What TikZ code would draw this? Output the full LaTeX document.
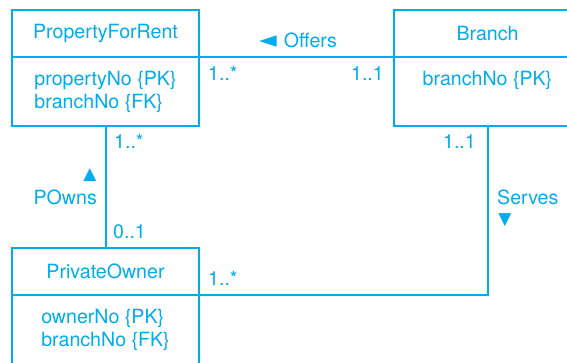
\documentclass[tikz,border=0pt]{standalone}
\usepackage{fontspec}
\setmainfont{TeX Gyre Heros}
\newfontfamily\symbolfont{DejaVu Sans}
\usetikzlibrary{positioning}
\definecolor{umlcyan}{RGB}{0,172,236}
\newcommand{\tri}[2][17]{{\symbolfont\fontsize{#1}{#1}\selectfont #2}}
\tikzset{
  classhead/.style={draw=umlcyan, line width=2pt, outer sep=0pt, inner sep=0pt,
    minimum width=187pt, minimum height=47pt, text=umlcyan},
  classbody/.style={classhead, minimum height=69pt, align=left},
  mult/.style={text=umlcyan, inner sep=0pt},
  link/.style={draw=umlcyan, line width=2pt}
}
\begin{document}
\begin{tikzpicture}[x=1pt,y=-1pt,font=\fontsize{19.6}{23}\selectfont]
  \clip (0,0) rectangle (567,363);
  % Classes
  \node[classhead, anchor=north west] (pfrhead) at (12,10) {PropertyForRent};
  \node[classbody, below=0pt of pfrhead] (pfrbody) {propertyNo \{PK\}\\branchNo \{FK\}};
  \node[classhead, anchor=north west] (brhead) at (394,10) {Branch};
  \node[classbody, below=0pt of brhead] (brbody) {branchNo \{PK\}\\\phantom{\{\}}};
  \node[classhead, anchor=north west] (pohead) at (12,248) {PrivateOwner};
  \node[classbody, below=0pt of pohead] (pobody) {ownerNo \{PK\}\\branchNo \{FK\}};
  % Associations
  \draw[link] (pfrhead.south east) -- (brhead.south west);
  \draw[link] (pfrbody.south) -- (pohead.north);
  \draw[link] (brbody.south) |- (pohead.south east);
  % Offers
  \node[mult, anchor=base] (offers) at (298,48) {\tri[23]{◄}\hspace{7pt}Offers};
  \node[mult, anchor=base west] (offersmany) at (208,81) {1..*};
  \node[mult, anchor=base east] (offersone) at (384,81) {1..1};
  % POwns
  \node[mult, anchor=base west] (ownsmany) at (114,149) {1..*};
  \node[mult] (ownsarrow) at (90,175.5) {\tri{▲}};
  \node[mult, anchor=base east] (owns) at (97,205) {POwns};
  \node[mult, anchor=base west] (ownsopt) at (113,239) {0..1};
  % Serves
  \node[mult, anchor=base east] (servesone) at (476,149) {1..1};
  \node[mult, anchor=base west] (serves) at (497,205) {Serves};
  \node[mult] (servesarrow) at (505,220) {\tri{▼}};
  \node[mult, anchor=base west] (servesmany) at (208,285) {1..*};
\end{tikzpicture}
\end{document}
